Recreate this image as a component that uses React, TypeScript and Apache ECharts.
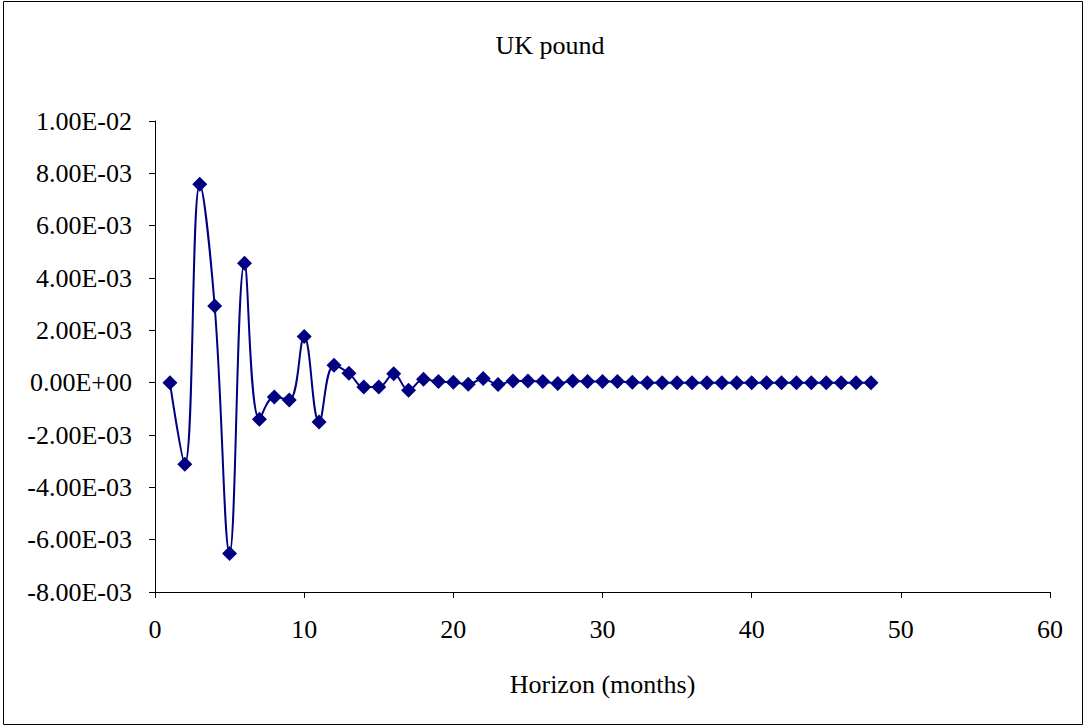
import React, { useEffect, useRef } from "react";
import * as echarts from "echarts";

const horizons: number[] = Array.from({ length: 48 }, (_, i) => i + 1);
const response: number[] = [
  0.0, -3.12e-3, 7.58e-3, 2.93e-3, -6.53e-3, 4.56e-3, -1.40e-3, -0.55e-3, -0.66e-3, 1.76e-3,
  -1.50e-3, 0.67e-3, 0.36e-3, -0.17e-3, -0.17e-3, 0.34e-3, -0.29e-3, 0.13e-3, 0.04e-3, 0.02e-3,
  -0.06e-3, 0.16e-3, -0.07e-3, 0.06e-3, 0.06e-3, 0.04e-3, -0.03e-3, 0.06e-3, 0.04e-3, 0.04e-3,
  0.04e-3, 0.02e-3, 0.0, 0.0, 0.0, 0.0, 0.0, 0.0, 0.0, 0.0,
  0.0, 0.0, 0.0, 0.0, 0.0, 0.0, 0.0, 0.0,
];
const titleText = "UK pound";
const xAxisName = "Horizon (months)";

function fmtExp(v: number): string {
  if (Math.abs(v) < 1e-12) return "0.00E+00";
  const s = v.toExponential(2);
  const [m, e] = s.split("e");
  const sign = e[0] === "-" ? "-" : "+";
  const digits = e.replace(/[+-]/, "").padStart(2, "0");
  return `${m}E${sign}${digits}`;
}

export default function App() {
  const ref = useRef<HTMLDivElement>(null);
  useEffect(() => {
    if (!ref.current) return;
    const chart = echarts.init(ref.current, null, { renderer: "svg" });
    const font = "Liberation Serif";
    const fs = 26;
    chart.setOption({
      animation: false,
      backgroundColor: "#ffffff",
      textStyle: { fontFamily: font },
      title: {
        text: titleText,
        left: 545,
        top: 27,
        textAlign: "center",
        textStyle: { fontFamily: font, fontSize: fs, fontWeight: "normal", color: "#000" },
      },
      graphic: [
        {
          type: "rect",
          shape: { x: 3.5, y: 1.5, width: 1079, height: 723 },
          style: { fill: "none", stroke: "#000", lineWidth: 1 },
          silent: true,
        },
      ],
      grid: { left: 155, right: 35, top: 121, bottom: 135, containLabel: false },
      xAxis: {
        type: "value",
        min: 0,
        max: 60,
        interval: 10,
        name: xAxisName,
        nameLocation: "middle",
        nameGap: 79,
        nameTextStyle: { fontFamily: font, fontSize: fs, color: "#000" },
        axisLine: { show: true, onZero: false, lineStyle: { color: "#000", width: 1 } },
        axisTick: { show: true, inside: false, length: 6, lineStyle: { color: "#000" } },
        axisLabel: { fontFamily: font, fontSize: fs, color: "#000", margin: 24 },
        splitLine: { show: false },
      },
      yAxis: {
        type: "value",
        min: -0.008,
        max: 0.01,
        interval: 0.002,
        axisLine: { show: true, onZero: false, lineStyle: { color: "#000", width: 1 } },
        axisTick: { show: true, inside: false, length: 6, lineStyle: { color: "#000" } },
        axisLabel: {
          fontFamily: font,
          fontSize: fs,
          color: "#000",
          margin: 23,
          formatter: (v: number) => fmtExp(v),
        },
        splitLine: { show: false },
      },
      series: [
        {
          type: "line",
          data: horizons.map((h, i) => [h, response[i]]),
          smooth: 0.4,
          symbol: "diamond",
          symbolSize: 15,
          itemStyle: { color: "#000080" },
          lineStyle: { color: "#000080", width: 2 },
        },
      ],
    });
    return () => chart.dispose();
  }, []);
  return (
    <div
      ref={ref}
      style={{ position: "fixed", left: 0, top: 0, width: 1085, height: 727 }}
    />
  );
}
